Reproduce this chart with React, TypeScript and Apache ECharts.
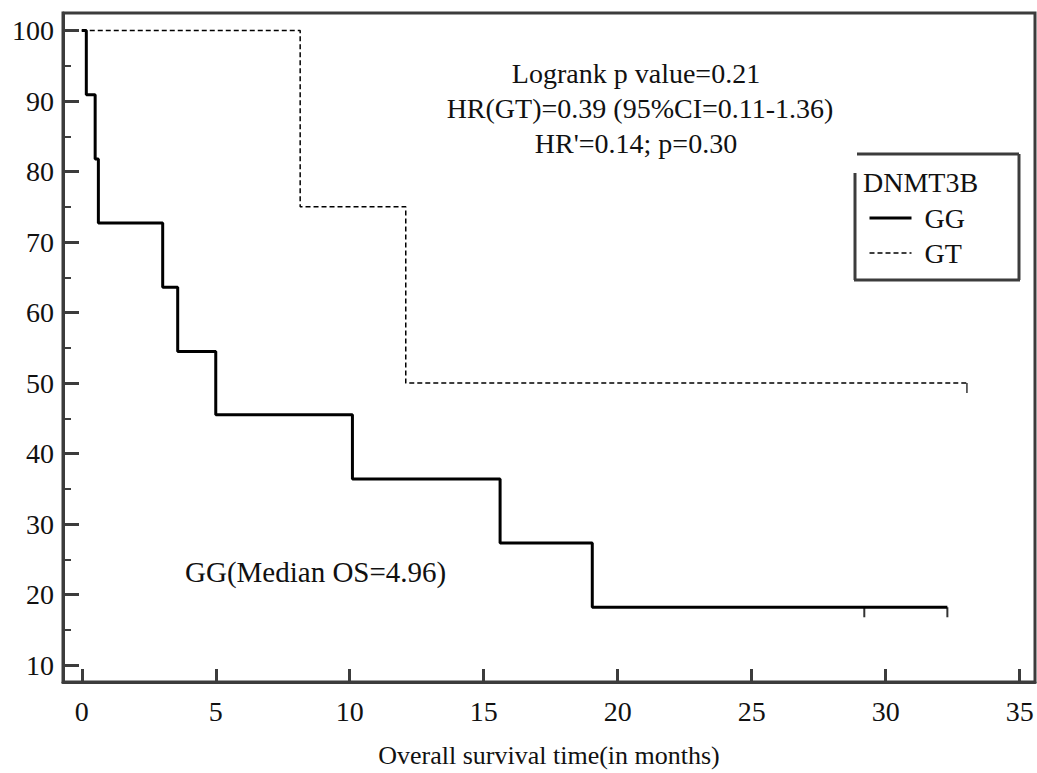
import React, { useEffect, useRef } from "react";
import * as echarts from "echarts";

const xTicks = [0, 5, 10, 15, 20, 25, 30, 35];
const yTicks = [10, 20, 30, 40, 50, 60, 70, 80, 90, 100];
const yMinorTicks = [15, 25, 35, 45, 55, 65, 75, 85, 95];

const ggTimes = [0, 0.17, 0.5, 0.62, 3.02, 3.58, 5.0, 10.1, 15.61, 19.05, 32.3];
const ggSurvival = [100, 90.9, 81.8, 72.7, 63.6, 54.5, 45.5, 36.4, 27.3, 18.2, 18.2];
const ggCensorTimes = [29.2, 32.3];
const ggCensorSurvival = [18.2, 18.2];

const gtTimes = [0, 8.15, 12.09, 33.03];
const gtSurvival = [100, 75, 50, 50];
const gtCensorTimes = [33.03];
const gtCensorSurvival = [50];

const annotationLines = [
  "Logrank p value=0.21",
  "HR(GT)=0.39 (95%CI=0.11-1.36)",
  "HR'=0.14; p=0.30",
];
const medianNote = "GG(Median OS=4.96)";
const legendTitle = "DNMT3B";
const xTitle = "Overall survival time(in months)";

const FONT = "Liberation Serif";
const AXIS = "#3c3c3c";

export default function App() {
  const ref = useRef<HTMLDivElement>(null);
  useEffect(() => {
    if (!ref.current) return;
    const chart = echarts.init(ref.current, null, { renderer: "svg" });
    const zip = (a: number[], b: number[]) => a.map((v, i) => [v, b[i]]);
    const option: any = {
      animation: false,
      backgroundColor: "#fff",
      textStyle: { fontFamily: FONT },
      grid: {
        left: 63,
        right: 2,
        top: 13,
        bottom: 87,
        show: true,
        borderColor: AXIS,
        borderWidth: 3,
        backgroundColor: "transparent",
      },
      xAxis: {
        type: "value",
        min: -0.7,
        max: 35.57,
        splitLine: { show: false },
        axisLine: { onZero: false, lineStyle: { color: AXIS, width: 3 } },
        axisTick: {
          inside: true,
          length: 13,
          customValues: xTicks,
          lineStyle: { color: AXIS, width: 3 },
        },
        axisLabel: {
          customValues: xTicks,
          fontFamily: FONT,
          fontSize: 28,
          color: "#111",
          margin: 15,
        },
        name: xTitle,
        nameLocation: "middle",
        nameGap: 60,
        nameTextStyle: { fontFamily: FONT, fontSize: 26, color: "#111" },
      },
      yAxis: [
        {
          type: "value",
          min: 7.6,
          max: 102.5,
          splitLine: { show: false },
          axisLine: { show: true, onZero: false, lineStyle: { color: AXIS, width: 3 } },
          axisTick: {
            show: true,
            inside: true,
            length: 16,
            customValues: yTicks,
            lineStyle: { color: AXIS, width: 3 },
          },
          axisLabel: {
            customValues: yTicks,
            fontFamily: FONT,
            fontSize: 28,
            color: "#111",
            margin: 9,
          },
        },
        {
          type: "value",
          position: "left",
          min: 7.6,
          max: 102.5,
          splitLine: { show: false },
          axisLine: { show: false, onZero: false },
          axisTick: {
            show: true,
            inside: true,
            length: 8,
            customValues: yMinorTicks,
            lineStyle: { color: AXIS, width: 2 },
          },
          axisLabel: { show: false },
        },
      ],
      legend: {
        data: [
          { name: "GG", lineStyle: { width: 3, color: "#000" } },
          { name: "GT", lineStyle: { width: 1.5, color: "#000", type: [5, 3] } },
        ],
        orient: "vertical",
        left: 868,
        top: 204,
        padding: 0,
        itemGap: 7,
        itemWidth: 42,
        itemHeight: 3,
        selectedMode: false,
        itemStyle: { opacity: 0 },
        textStyle: {
          fontFamily: FONT,
          fontSize: 28,
          color: "#111",
          padding: [0, 0, 0, 8],
        },
      },
      graphic: [
        { type: "line", shape: { x1: 857, y1: 154, x2: 1019, y2: 154 }, style: { stroke: AXIS, lineWidth: 3 } },
        { type: "line", shape: { x1: 1019, y1: 154, x2: 1019, y2: 280 }, style: { stroke: AXIS, lineWidth: 3 } },
        { type: "line", shape: { x1: 854, y1: 280, x2: 1020, y2: 280 }, style: { stroke: AXIS, lineWidth: 3 } },
        { type: "line", shape: { x1: 855, y1: 173, x2: 855, y2: 280 }, style: { stroke: AXIS, lineWidth: 3 } },
        {
          type: "text",
          x: 863,
          y: 182.5,
          style: { text: legendTitle, fontFamily: FONT, fontSize: 28, fill: "#111", align: "left", verticalAlign: "middle" },
        },
        ...annotationLines.map((t, i) => ({
          type: "text",
          x: i === 1 ? 640 : 636,
          y: 73.5 + i * 35,
          style: { text: t, fontFamily: FONT, fontSize: 28, fill: "#111", align: "center", verticalAlign: "middle" },
        })),
        {
          type: "text",
          x: 185,
          y: 572,
          style: { text: medianNote, fontFamily: FONT, fontSize: 29, fill: "#111", align: "left", verticalAlign: "middle" },
        },
      ],
      series: [
        {
          name: "GG",
          type: "line",
          step: "end",
          symbol: "none",
          data: zip(ggTimes, ggSurvival),
          lineStyle: { color: "#000", width: 3 },
          itemStyle: { color: "#000" },
          z: 3,
        },
        {
          name: "GT",
          type: "line",
          step: "end",
          symbol: "none",
          data: zip(gtTimes, gtSurvival),
          lineStyle: { color: "#000", width: 1.5, type: [5, 3] },
          itemStyle: { color: "#000" },
          z: 2,
        },
        {
          name: "GG censored",
          type: "scatter",
          symbol: "rect",
          symbolSize: [2, 10],
          symbolOffset: [0, 5],
          data: zip(ggCensorTimes, ggCensorSurvival),
          itemStyle: { color: "#000" },
          z: 4,
        },
        {
          name: "GT censored",
          type: "scatter",
          symbol: "rect",
          symbolSize: [1.5, 10],
          symbolOffset: [0, 5],
          data: zip(gtCensorTimes, gtCensorSurvival),
          itemStyle: { color: "#000" },
          z: 4,
        },
      ],
    };
    chart.setOption(option);
    return () => chart.dispose();
  }, []);
  return (
    <div
      ref={ref}
      style={{ position: "fixed", left: 0, top: 0, width: 1037, height: 773, background: "#fff" }}
    />
  );
}
